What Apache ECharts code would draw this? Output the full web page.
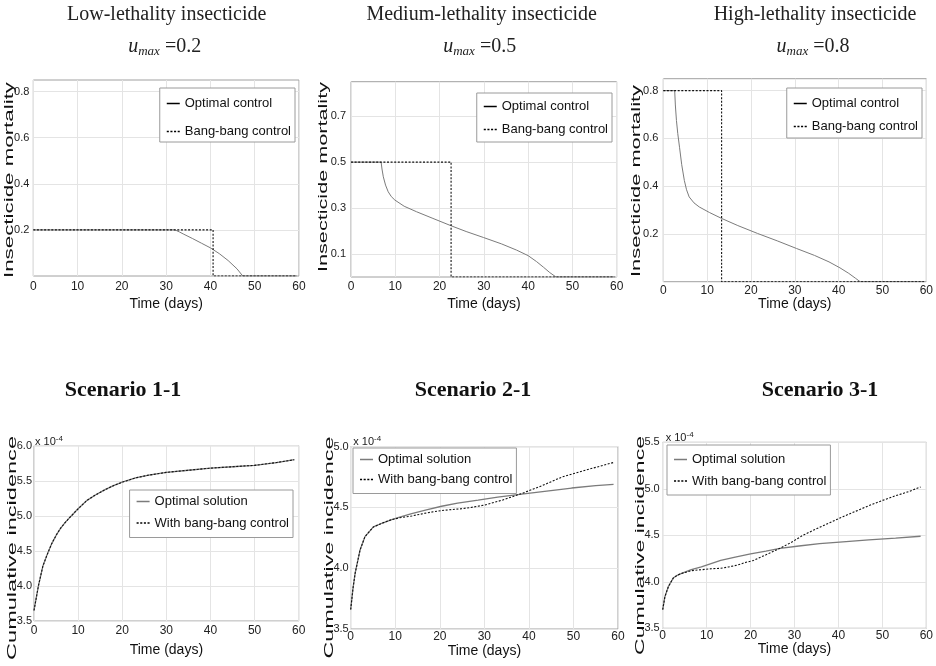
<!DOCTYPE html>
<html lang="en">
<head>
<meta charset="UTF-8">
<title>insecticide optimal control</title>
<script src="https://cdn.jsdelivr.net/npm/echarts@6/dist/echarts.min.js"></script>
<style>
  html, body { margin: 0; padding: 0; background: #fff; }
  #main { width: 936px; height: 666px; }
</style>
</head>
<body>
<div id="main"></div>
<script>
var chart = echarts.init(document.getElementById('main'));

// ---- data ----
var topTitles = ['Low-lethality insecticide', 'Medium-lethality insecticide', 'High-lethality insecticide'];
var uMax = ['0.2', '0.5', '0.8'];
var bottomTitles = ['Scenario 1-1', 'Scenario 2-1', 'Scenario 3-1'];

var lowOptimal = [[0, 0.2], [32, 0.2], [33, 0.191], [34, 0.181], [36, 0.162], [38, 0.142], [40, 0.122],
  [42, 0.097], [44, 0.067], [46, 0.031], [47.3, 0], [59.5, 0]];
var lowBang = [[0, 0.2], [40.6, 0.2], [40.6, 0], [59.5, 0]];

var midOptimal = [[0, 0.5], [6.8, 0.5], [7.0, 0.47], [7.3, 0.436], [7.8, 0.4], [8.4, 0.371], [9.1, 0.35],
  [9.9, 0.335], [12, 0.308], [14.8, 0.284], [18.5, 0.255], [22.6, 0.223], [26, 0.198], [29.9, 0.172],
  [34, 0.144], [37.4, 0.117], [40, 0.093], [41.9, 0.067], [43.5, 0.042], [44.9, 0.019], [46.3, 0], [59.5, 0]];
var midBang = [[0, 0.5], [22.6, 0.5], [22.6, 0], [59.5, 0]];

var highOptimal = [[0, 0.8], [2.6, 0.8], [2.75, 0.74], [3.0, 0.675], [3.3, 0.62], [3.7, 0.563], [4.2, 0.49],
  [4.8, 0.424], [5.3, 0.385], [5.9, 0.355], [7, 0.33], [8.2, 0.313], [10.5, 0.29], [13.3, 0.265],
  [17, 0.235], [21.5, 0.202], [26, 0.171], [30.4, 0.139], [34.5, 0.11], [37.8, 0.083], [40.3, 0.058],
  [42.3, 0.035], [43.8, 0.015], [44.9, 0], [59.5, 0]];
var highBang = [[0, 0.8], [13.3, 0.8], [13.3, 0], [59.5, 0]];

var scen1Optimal = [[0, 3.65], [1, 4.0], [2, 4.28], [3, 4.45], [4, 4.6], [5, 4.72], [6, 4.82], [7, 4.9],
  [8, 4.97], [10, 5.1], [12, 5.22], [14, 5.3], [16, 5.37], [18, 5.43], [20, 5.48], [23, 5.54], [26, 5.58],
  [30, 5.62], [35, 5.65], [40, 5.68], [45, 5.70], [50, 5.72], [55, 5.76], [59, 5.80]];
var scen1Bang = [[0, 3.65], [1, 4.0], [2, 4.28], [3, 4.45], [4, 4.6], [5, 4.72], [6, 4.82], [7, 4.9],
  [8, 4.97], [10, 5.1], [12, 5.22], [14, 5.3], [16, 5.37], [18, 5.43], [20, 5.48], [23, 5.54], [26, 5.58],
  [30, 5.62], [35, 5.65], [40, 5.68], [45, 5.70], [50, 5.72], [55, 5.76], [59, 5.80]];

var scen2Optimal = [[0, 3.66], [0.5, 3.83], [1, 3.96], [2.1, 4.15], [3.2, 4.26], [5.1, 4.34], [7, 4.37],
  [9.2, 4.40], [11, 4.42], [13.7, 4.45], [17, 4.48], [20.4, 4.51], [24, 4.535], [28.6, 4.56], [33, 4.585],
  [38.4, 4.61], [44, 4.635], [49.6, 4.66], [55, 4.68], [59, 4.69]];
var scen2Bang = [[0, 3.66], [0.5, 3.83], [1, 3.96], [2.1, 4.15], [3.2, 4.26], [5.1, 4.34], [7, 4.37],
  [9.2, 4.40], [11, 4.415], [13.7, 4.43], [17, 4.455], [20.4, 4.475], [24.9, 4.49], [27, 4.5], [30.1, 4.52],
  [34, 4.56], [38.4, 4.615], [43, 4.68], [47.4, 4.75], [53, 4.81], [59, 4.87]];

var scen3Optimal = [[0, 3.70], [0.5, 3.84], [1.3, 3.95], [2.4, 4.04], [3.3, 4.07], [4.3, 4.09], [6.5, 4.13],
  [8.8, 4.16], [11, 4.195], [13.2, 4.23], [16.5, 4.265], [20, 4.30], [23.5, 4.33], [26.7, 4.36], [31, 4.385],
  [35.7, 4.41], [41, 4.43], [46.9, 4.45], [53, 4.47], [58.7, 4.49]];
var scen3Bang = [[0, 3.70], [0.5, 3.84], [1.3, 3.95], [2.4, 4.04], [3.3, 4.07], [4.3, 4.09], [6.5, 4.12],
  [8.8, 4.13], [11, 4.14], [13.2, 4.145], [15, 4.16], [17, 4.18], [19, 4.21], [20.7, 4.23], [23.5, 4.29],
  [26.7, 4.36], [29.5, 4.43], [31.9, 4.50], [35, 4.57], [38, 4.635], [41, 4.70], [44, 4.76], [47, 4.82],
  [50, 4.875], [53, 4.925], [56, 4.97], [58.7, 5.02]];

var topYTicks = [[0.2, 0.4, 0.6, 0.8], [0.1, 0.3, 0.5, 0.7], [0.2, 0.4, 0.6, 0.8]];
var bottomYRange = [[3.5, 6.0], [3.5, 5.0], [3.5, 5.5]];

var topSeries = [[lowOptimal, lowBang], [midOptimal, midBang], [highOptimal, highBang]];
var bottomSeries = [[scen1Optimal, scen1Bang], [scen2Optimal, scen2Bang], [scen3Optimal, scen3Bang]];

// ---- layout ----
var SANS = "'Liberation Sans',Arial,sans-serif";
var SERIF = "'Liberation Serif','Times New Roman',serif";
var DOTTED_ICON = 'path://M0,0h2v1h-2zM3.5,0h2v1h-2zM7,0h2v1h-2zM10.5,0h2v1h-2z';

// left, top, width, height
var grids = [
  [33.3, 80, 265.7, 196], [351, 81.7, 265.7, 195.3], [663.3, 78.7, 269.7, 203],
  [34, 445.7, 264.7, 175.3], [350.7, 446.7, 267.3, 182.3], [662.7, 442.3, 267.3, 186]
];
var xLabelMargin = [5, 4, 3, 4, 2, 1];
var yLabelMargin = [4, 5, 5, 2, 2, 3];
var xNameGap = [21, 20, 15, 22, 14, 13];
var titleX = [166.7, 481.7, 815];
var scenX = [123, 473, 820];
var legendPos = [
  { right: 641, top: 88, itemGap: 15, padding: [9, 4, 4, 7] },
  { right: 324, top: 93, itemGap: 10, padding: [7, 4, 6, 7] },
  { right: 14, top: 88, itemGap: 10, padding: [9, 4, 5, 7] },
  { right: 643, top: 490, itemGap: 8.5, padding: [5, 4, 8, 7] },
  { left: 353, top: 448, itemGap: 7, padding: [5, 4, 7.5, 7] },
  { left: 667, top: 445, itemGap: 8.5, padding: [8, 4, 7.5, 7] }
];
var yNames = [
  { text: 'Insecticide mortality', x: 9, y: 180, len: 196 },
  { text: 'Insecticide mortality', x: 323.5, y: 177, len: 190 },
  { text: 'Insecticide mortality', x: 636.5, y: 181, len: 192 },
  { text: 'Cumulative incidence', x: 12, y: 548, len: 224 },
  { text: 'Cumulative incidence', x: 329, y: 547.5, len: 222 },
  { text: 'Cumulative incidence', x: 640, y: 545.5, len: 219 }
];
var expPos = [[35, 442], [353.3, 442], [665.7, 438]];

var measureCtx = document.createElement('canvas').getContext('2d');
function textWidth(str, font) {
  measureCtx.font = font;
  return measureCtx.measureText(str).width;
}

var option = {
  animation: false,
  backgroundColor: '#fff',
  grid: [], xAxis: [], yAxis: [], series: [], legend: [], graphic: []
};

for (var i = 0; i < 6; i++) {
  var g = grids[i];
  var isTop = i < 3;
  var k = i % 3;
  option.grid.push({
    left: g[0], top: g[1], width: g[2], height: g[3],
    show: true, borderColor: '#a0a0a0', borderWidth: 1, backgroundColor: '#fff'
  });
  option.xAxis.push({
    type: 'value', gridIndex: i, min: 0, max: 60, interval: 10,
    axisLine: { show: false }, axisTick: { show: false },
    axisLabel: { margin: xLabelMargin[i], fontSize: 12, fontFamily: SANS, color: '#222' },
    splitLine: { lineStyle: { color: '#e4e4e4', width: 1 } },
    name: 'Time (days)', nameLocation: 'middle', nameGap: xNameGap[i],
    nameTextStyle: { fontSize: 14, fontFamily: SANS, color: '#111' }
  });
  var yAx = {
    type: 'value', gridIndex: i,
    axisLine: { show: false },
    splitLine: { lineStyle: { color: '#e4e4e4', width: 1 } },
    axisLabel: { margin: yLabelMargin[i], fontSize: 11, fontFamily: SANS, color: '#222' }
  };
  if (isTop) {
    yAx.min = 0; yAx.max = 0.85;
    yAx.axisTick = { show: false, customValues: topYTicks[k] };
    yAx.axisLabel.customValues = topYTicks[k];
  } else {
    yAx.min = bottomYRange[k][0]; yAx.max = bottomYRange[k][1]; yAx.interval = 0.5;
    yAx.axisTick = { show: false };
  }
  yAx.axisLabel.formatter = function (v) { return v.toFixed(1); };
  option.yAxis.push(yAx);

  var pair = isTop ? topSeries[k] : bottomSeries[k];
  var optName = isTop ? 'Optimal control' : 'Optimal solution';
  var bangName = isTop ? 'Bang-bang control' : 'With bang-bang control';
  option.series.push({
    name: optName, type: 'line', xAxisIndex: i, yAxisIndex: i, data: pair[0],
    symbol: 'none', z: 2,
    lineStyle: { color: '#7b7b7b', width: isTop ? 1 : 1.3 }, itemStyle: { color: '#7b7b7b' }
  });
  option.series.push({
    name: bangName, type: 'line', xAxisIndex: i, yAxisIndex: i, data: pair[1],
    symbol: 'none', z: 3,
    lineStyle: { color: '#111', width: 1.1, type: [2, 1.6] }, itemStyle: { color: '#111' }
  });

  var lp = legendPos[i];
  var leg = {
    orient: 'vertical', align: 'left', selectedMode: false,
    top: lp.top, itemGap: lp.itemGap, padding: lp.padding,
    itemWidth: 13, itemHeight: 1.5, symbolKeepAspect: false,
    backgroundColor: '#fff', borderColor: '#9a9a9a', borderWidth: 1, borderRadius: 0,
    textStyle: { fontSize: 13, fontFamily: SANS, color: '#111' },
    data: [
      { name: optName, icon: 'rect', itemStyle: { color: isTop ? '#000' : '#7b7b7b' } },
      { name: bangName, icon: DOTTED_ICON, itemStyle: { color: '#000' } }
    ]
  };
  if (lp.right != null) leg.right = lp.right; else leg.left = lp.left;
  option.legend.push(leg);

  // rotated y-axis names, stretched along their length as in the figure
  var yn = yNames[i];
  var sx = yn.len / textWidth(yn.text, '13px ' + SANS);
  option.graphic.push({
    type: 'text', x: yn.x, y: yn.y, rotation: Math.PI / 2, scaleX: sx,
    style: {
      text: yn.text, fontSize: 13, fontFamily: SANS, fill: '#111',
      align: 'center', verticalAlign: 'middle', textAlign: 'center', textVerticalAlign: 'middle'
    }
  });
}

for (var t = 0; t < 3; t++) {
  option.graphic.push({
    type: 'text', x: titleX[t], y: 15,
    style: {
      text: topTitles[t], fontSize: 20, fontFamily: SERIF, fill: '#222',
      align: 'center', verticalAlign: 'middle', textAlign: 'center', textVerticalAlign: 'middle'
    }
  });
  option.graphic.push({
    type: 'text', x: titleX[t] - 2, y: 47,
    style: {
      text: '{u|u}{s|max}{a| =' + uMax[t] + '}',
      align: 'center', verticalAlign: 'middle', textAlign: 'center', textVerticalAlign: 'middle',
      fill: '#222',
      rich: {
        u: { fontSize: 20, fontStyle: 'italic', fontFamily: SERIF, lineHeight: 22, fill: '#222' },
        s: { fontSize: 13, fontStyle: 'italic', fontFamily: SERIF, lineHeight: 8, verticalAlign: 'bottom', fill: '#222' },
        a: { fontSize: 20, fontFamily: SERIF, lineHeight: 22, fill: '#222' }
      }
    }
  });
  option.graphic.push({
    type: 'text', x: scenX[t], y: 390,
    style: {
      text: bottomTitles[t], fontSize: 22, fontWeight: 'bold', fontFamily: SERIF, fill: '#111',
      align: 'center', verticalAlign: 'middle', textAlign: 'center', textVerticalAlign: 'middle'
    }
  });
  option.graphic.push({
    type: 'text', x: expPos[t][0], y: expPos[t][1],
    style: {
      text: '{a|x 10}{b|-4}',
      align: 'left', verticalAlign: 'middle', textAlign: 'left', textVerticalAlign: 'middle',
      fill: '#222',
      rich: {
        a: { fontSize: 11, fontFamily: SANS, lineHeight: 14, fill: '#222' },
        b: { fontSize: 8, fontFamily: SANS, lineHeight: 6, verticalAlign: 'top', fill: '#222' }
      }
    }
  });
}

chart.setOption(option);
</script>
</body>
</html>
